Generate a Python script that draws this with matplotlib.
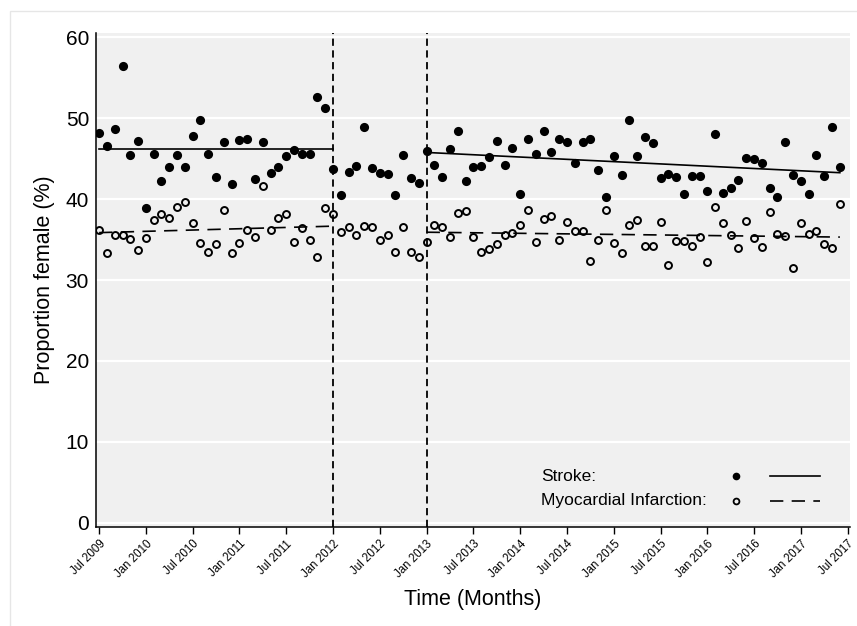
import numpy as np
import matplotlib
matplotlib.use("Agg")
import matplotlib.pyplot as plt
from matplotlib.patches import Rectangle

plt.rcParams["font.family"] = ["Liberation Sans", "DejaVu Sans"]

# monthly series, Jul 2009 (month 0) .. Jun 2017 (month 95)
stroke = [
    48.1, 46.6, 48.6, 56.4, 45.4, 47.2, 38.9, 45.6, 42.2, 44.0, 45.4, 44.0,
    47.8, 49.8, 45.6, 42.7, 47.0, 41.9, 47.3, 47.4, 42.5, 47.0, 43.2, 43.9,
    45.3, 46.1, 45.5, 45.5, 52.6, 51.3, 43.7, 40.5, 43.3, 44.1, 48.9, 43.8,
    43.2, 43.1, 40.5, 45.4, 42.6, 42.0, 45.9, 44.2, 42.7, 46.2, 48.4, 42.2,
    43.9, 44.1, 45.2, 47.2, 44.2, 46.3, 40.6, 47.4, 45.5, 48.4, 45.8, 47.4,
    47.0, 44.5, 47.0, 47.4, 43.6, 40.3, 45.3, 43.0, 49.7, 45.3, 47.7, 46.9,
    42.6, 43.1, 42.7, 40.6, 42.8, 42.8, 41.0, 48.0, 40.7, 41.3, 42.3, 45.1,
    44.9, 44.4, 41.3, 40.2, 47.0, 43.0, 42.2, 40.6, 45.4, 42.8, 48.9, 43.9,
]
mi = [
    36.2, 33.3, 35.6, 35.6, 35.1, 33.7, 35.2, 37.4, 38.2, 37.6, 39.0, 39.6,
    37.0, 34.6, 33.5, 34.4, 38.7, 33.3, 34.6, 36.2, 35.3, 41.6, 36.2, 37.6,
    38.2, 34.7, 36.4, 34.9, 32.9, 38.9, 38.2, 35.9, 36.6, 35.6, 36.7, 36.5,
    34.9, 35.6, 33.5, 36.5, 33.4, 32.8, 34.7, 36.8, 36.6, 35.3, 38.3, 38.5,
    35.3, 33.5, 33.8, 34.5, 35.6, 35.8, 36.8, 38.7, 34.7, 37.5, 37.9, 34.9,
    37.2, 36.0, 36.0, 32.4, 34.9, 38.6, 34.6, 33.3, 36.8, 37.4, 34.2, 34.2,
    37.2, 31.8, 34.8, 34.8, 34.2, 35.3, 32.2, 39.0, 37.0, 35.6, 33.9, 37.3,
    35.2, 34.1, 38.4, 35.7, 35.4, 31.5, 37.0, 35.7, 36.1, 34.4, 34.0, 39.4,
]
months = np.arange(len(stroke))

# segmented trend lines (month span, values at ends)
pre_span = [0, 30]
post_span = [42, 95]
stroke_pre_trend = [46.2, 46.2]
mi_pre_trend = [35.85, 36.65]
stroke_post_trend = [45.75, 43.25]
mi_post_trend = [35.9, 35.3]

breaks = [30, 42]  # Jan 2012, Jan 2013

tick_months = list(range(0, 97, 6))
tick_labels = []
for i, m in enumerate(tick_months):
    yr = 2009 + (m + 6) // 12
    tick_labels.append(("Jul " if i % 2 == 0 else "Jan ") + str(yr))

fig = plt.figure(figsize=(8.57, 6.26), dpi=100)
fig.patches.append(Rectangle((10 / 857, -0.1), 1.2, 1 - 11 / 626 + 0.1,
                             transform=fig.transFigure, fill=False,
                             edgecolor="#e6e6e6", lw=1.0))
ax = fig.add_axes([96 / 857, 1 - 527 / 626, 754 / 857, 494 / 626])
ax.set_facecolor("#f0f0f0")

for y in range(0, 61, 10):
    ax.axhline(y, color="white", lw=1.6, zorder=0)

for b in breaks:
    ax.axvline(b, color="black", lw=1.3, ls=(0, (4, 2.5)), zorder=1)

ax.plot(pre_span, stroke_pre_trend, color="black", lw=1.2, zorder=2)
ax.plot(post_span, stroke_post_trend, color="black", lw=1.2, zorder=2)
ax.plot(pre_span, mi_pre_trend, color="black", lw=1.2, ls=(0, (8, 5)), zorder=2)
ax.plot(post_span, mi_post_trend, color="black", lw=1.2, ls=(0, (8, 5)), zorder=2)

ax.plot(months, stroke, "o", color="black", ms=6.6, mew=0, zorder=3)
ax.plot(months, mi, "o", mfc="none", mec="black", ms=5.0, mew=1.4, zorder=3)

ax.set_xlim(-0.4, 96.3)
ax.set_ylim(-0.5, 60.5)
ax.set_yticks(range(0, 61, 10))
ax.tick_params(axis="y", labelsize=15, length=0, pad=5)
ax.set_xticks(tick_months)
ax.set_xticklabels(tick_labels, rotation=45, ha="right", rotation_mode="anchor",
                   fontsize=8.3)
ax.tick_params(axis="x", length=5, width=1, pad=3)
for s in ["top", "right"]:
    ax.spines[s].set_visible(False)
for s in ["left", "bottom"]:
    ax.spines[s].set_linewidth(1.1)

ax.set_ylabel("Proportion female (%)", fontsize=15.5, labelpad=8)
ax.set_xlabel("Time (Months)", fontsize=15.5, labelpad=6)

# legend drawn by hand
ax.text(0.590, 0.103, "Stroke:", transform=ax.transAxes, fontsize=12.5, va="center")
ax.text(0.590, 0.053, "Myocardial Infarction:", transform=ax.transAxes,
        fontsize=12.5, va="center")
ax.plot([0.849], [0.103], "o", color="black", ms=5.5, mew=0, transform=ax.transAxes)
ax.plot([0.849], [0.053], "o", mfc="none", mec="black", ms=4.2, mew=1.3,
        transform=ax.transAxes)
ax.plot([0.894, 0.960], [0.103, 0.103], color="black", lw=1.2, transform=ax.transAxes)
ax.plot([0.894, 0.960], [0.053, 0.053], color="black", lw=1.2, ls=(0, (8, 5)),
        transform=ax.transAxes)

fig.savefig("out.png", dpi=100)
